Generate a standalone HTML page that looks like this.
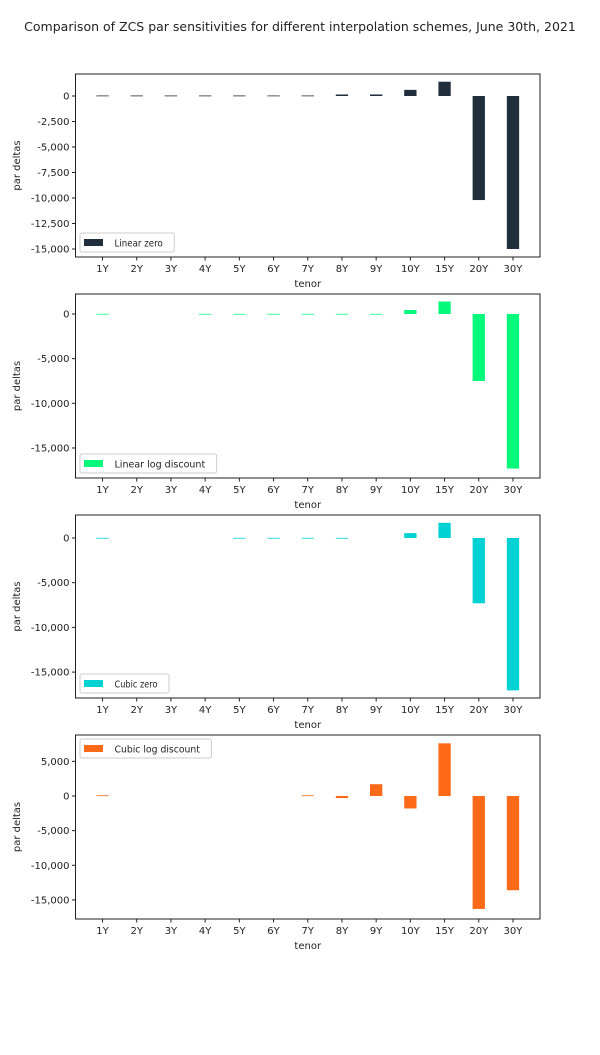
<!DOCTYPE html>
<html><head><meta charset="utf-8"><style>
body{margin:0;background:#fff;width:600px;height:1050px;overflow:hidden;font-family:"Liberation Sans",sans-serif}
text{font-family:"DejaVu Sans","Liberation Sans",sans-serif;fill:#222}
</style></head><body>
<svg id="chart" width="600" height="1050" xmlns="http://www.w3.org/2000/svg">
<text x="300" y="31" text-anchor="middle" font-size="12.5">Comparison of ZCS par sensitivities for different interpolation schemes, June 30th, 2021</text>
</svg>
<script>
const categories = ["1Y","2Y","3Y","4Y","5Y","6Y","7Y","8Y","9Y","10Y","15Y","20Y","30Y"];
const linearZero = [50,50,50,50,50,50,50,150,150,600,1400,-10200,-15000];
const linearLogDiscount = [20,0,0,20,20,20,20,20,20,450,1400,-7500,-17300];
const cubicZero = [20,0,0,0,20,20,20,20,0,550,1700,-7300,-17050];
const cubicLogDiscount = [100,0,0,0,0,0,100,-300,1700,-1800,7600,-16300,-13600];
const seriesNames = ["Linear zero","Linear log discount","Cubic zero","Cubic log discount"];
const yTicks1 = [0,-2500,-5000,-7500,-10000,-12500,-15000];
const yTicks2 = [0,-5000,-10000,-15000];
const yTicks4 = [5000,0,-5000,-10000,-15000];

const NS="http://www.w3.org/2000/svg";
const svg=document.getElementById('chart');
function mk(tag,attrs,parent){const e=document.createElementNS(NS,tag);for(const k in attrs)e.setAttribute(k,attrs[k]);(parent||svg).appendChild(e);return e;}
const panels=[
 {data:linearZero,color:"#212f3d",top:74,bottom:257,ymax:2157,ymin:-15784,ticks:yTicks1,legend:"lower"},
 {data:linearLogDiscount,color:"#05fa7c",top:294,bottom:478,ymax:2240,ymin:-18360,ticks:yTicks2,legend:"lower"},
 {data:cubicZero,color:"#00d1d3",top:515,bottom:698,ymax:2575,ymin:-17900,ticks:yTicks2,legend:"lower"},
 {data:cubicLogDiscount,color:"#fc6a19",top:735,bottom:919,ymax:8800,ymin:-17750,ticks:yTicks4,legend:"upper"}
];
const L=75.5,R=540,n=categories.length;
const xmin=-0.79,xmax=n-1+0.79;
const xs=i=>L+(i-xmin)/(xmax-xmin)*(R-L);
const bw=0.36*(R-L)/(xmax-xmin);
const fmt=v=>v.toLocaleString('en-US');
panels.forEach((p,pi)=>{
  const g=mk('g',{});
  
  
  const ys=v=>p.top+(p.ymax-v)/(p.ymax-p.ymin)*(p.bottom-p.top);
  p.data.forEach((v,i)=>{
    if(v===0)return;
    const y0=ys(0),y1=ys(v);
    const r=mk('rect',{x:xs(i)-bw/2,y:Math.min(y0,y1),width:bw,height:Math.max(Math.abs(y1-y0),0.8),fill:p.color},g);
    
    
  });
  const fr=mk('rect',{x:L,y:p.top,width:R-L,height:p.bottom-p.top,fill:'none',stroke:'#222','stroke-width':1},g);
  
  
  p.ticks.forEach(t=>{
    const y=ys(t);
    mk('line',{x1:L-3.5,x2:L,y1:y,y2:y,stroke:'#222'},g);
    const tx=mk('text',{x:L-6,y:y+3.5,'text-anchor':'end','font-size':10},g);
    tx.textContent=fmt(t);
    
    
  });
  categories.forEach((c,i)=>{
    const x=xs(i);
    mk('line',{x1:x,x2:x,y1:p.bottom,y2:p.bottom+3.5,stroke:'#222'},g);
    const tx=mk('text',{x:x,y:p.bottom+15,'text-anchor':'middle','font-size':10},g);
    tx.textContent=c;
    
    
  });
  const xl=mk('text',{x:(L+R)/2,y:p.bottom+30,'text-anchor':'middle','font-size':10},g);
  xl.textContent='tenor';
  
  
  const cy=(p.top+p.bottom)/2;
  const yl=mk('text',{x:20,y:cy,'text-anchor':'middle','font-size':10,transform:`rotate(-90 20 ${cy})`},g);
  yl.textContent='par deltas';
  
  
  const name=seriesNames[pi];
  const lw=name.length*5.3+36;
  const ly=p.legend==='lower'?p.bottom-24:p.top+4;
  const lg=mk('g',{},g);
  
  
  mk('rect',{x:L+4.5,y:ly,width:lw,height:19,rx:2,fill:'#fff',stroke:'#ccc'},lg);
  mk('rect',{x:L+8.5,y:ly+6,width:19,height:7,fill:p.color},lg);
  const lt=mk('text',{x:L+39,y:ly+13.5,'font-size':9.5,textLength:name.length*5.3-10,lengthAdjust:'spacingAndGlyphs'},lg);
  lt.textContent=name;
});
</script>
</body></html>
